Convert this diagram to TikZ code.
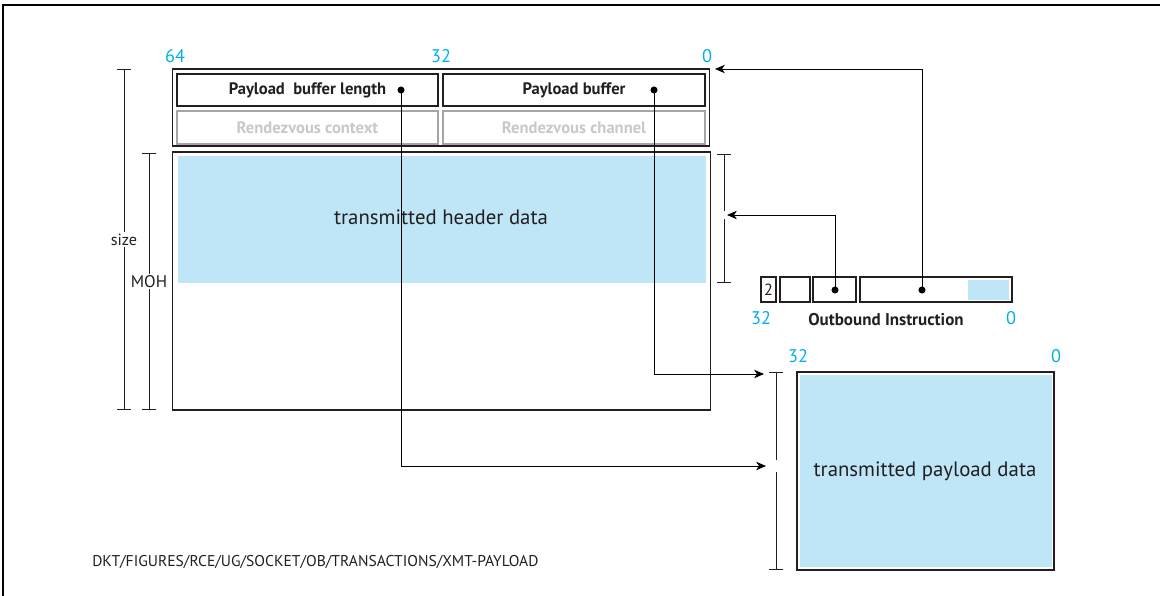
\documentclass[tikz,border=0pt]{standalone}
\usepackage{fontspec}
\setmainfont{PT Sans}
\usetikzlibrary{arrows.meta}

\definecolor{bitblue}{RGB}{0,174,239}
\definecolor{datafill}{RGB}{190,230,247}
\definecolor{inkgray}{RGB}{35,31,32}
\definecolor{dimgray}{RGB}{165,165,165}
\definecolor{faintgray}{RGB}{200,200,200}

\tikzset{
  field/.style={draw=inkgray, line width=0.8pt, inner sep=0pt, text=inkgray,
    font=\bfseries\fontsize{11.8}{14}\selectfont},
  oldfield/.style={field, draw=dimgray, text=faintgray},
  frame/.style={draw=inkgray, line width=0.8pt, inner sep=0pt},
  bitnum/.style={text=bitblue, font=\fontsize{13}{15}\selectfont},
  dimbar/.style={draw=inkgray, line width=0.7pt, {Bar[width=10pt]}-{Bar[width=10pt]}},
  ptr/.style={draw=black, line width=0.7pt, -{Stealth[length=7pt,width=6pt,inset=2pt]}},
  dot/.style={circle, fill=black, inner sep=0pt, minimum size=5pt},
  bigtext/.style={text=inkgray, font=\fontsize{14.8}{17}\selectfont},
  smalltext/.style={text=inkgray, font=\fontsize{11.5}{13}\selectfont},
}

\begin{document}
\begin{tikzpicture}[x=0.025cm, y=-0.025cm]
    \useasboundingbox (0,0) rectangle (1160,596);
    \draw[line width=1pt] (3,596) -- (3,5) -- (1160,5);

    % bit positions
    \node[bitnum] (b64) at (175,56) {64};
    \node[bitnum] (b32) at (441,56) {32};
    \node[bitnum] (b0) at (707,56) {0};

    % message header
    \node[frame, minimum width=13.4cm, minimum height=1.925cm] (hdr) at (441,107.5) {};
    \node[field, minimum width=6.525cm, minimum height=0.8cm] (lenBox) at (307.5,90) {Payload\ \ buffer length};
    \node[field, minimum width=6.55cm, minimum height=0.8cm] (bufBox) at (574,90) {Payload buffer};
    \node[oldfield, minimum width=6.525cm, minimum height=0.825cm] (ctxBox) at (307.5,127.5) {Rendezvous context};
    \node[oldfield, minimum width=6.55cm, minimum height=0.825cm] (chnBox) at (574,127.5) {Rendezvous channel};

    % MOH area
    \node[frame, minimum width=13.425cm, minimum height=6.45cm] (moh) at (441.5,281) {};
    \fill[datafill] (178,156) rectangle (706,283);
    \node[bigtext] (hdrData) at (441,217) {transmitted header data};

    \draw[dimbar] (124,69) -- (124,410) node[midway, fill=white, inner sep=1pt, smalltext] (sizeLbl) {size};
    \draw[dimbar] (149,153) -- (149,410) node[midway, fill=white, inner sep=1pt, smalltext, font=\fontsize{12}{14}\selectfont] (mohLbl) {MOH};
    \draw[dimbar] (724,154) -- (724,283);
    \fill[white] (721,211) rectangle (727,219);

    % outbound instruction
    \node[field, font=\fontsize{11.5}{13}\selectfont, minimum width=0.375cm, minimum height=0.625cm] (ob1) at (768.5,289.5) {2};
    \node[field, minimum width=0.75cm, minimum height=0.625cm] (ob2) at (795,289.5) {};
    \node[field, minimum width=1.075cm, minimum height=0.625cm] (ob3) at (834.5,289.5) {};
    \node[field, minimum width=3.8cm, minimum height=0.625cm] (ob4) at (936,289.5) {};
    \fill[datafill] (968,280) rectangle (1009,300);
    \node[bitnum] (ob32) at (761,318) {32};
    \node[field, draw=none, font=\bfseries\fontsize{12.1}{14}\selectfont] (obLbl) at (886,320) {Outbound Instruction};
    \node[bitnum] (ob0) at (1011,318) {0};

    % payload
    \node[bitnum] (p32) at (798,356) {32};
    \node[bitnum] (p0) at (1056,356) {0};
    \node[frame, minimum width=6.425cm, minimum height=4.95cm] (pay) at (925.5,471) {};
    \fill[datafill] (800,375) rectangle (1052,567);
    \node[bigtext] (payData) at (925,471) {transmitted payload data};
    \draw[dimbar] (776,372) -- (776,570);
    \fill[white] (773,460) rectangle (779,472);

    % pointers
    \node[dot] (lenDot) at (401,90) {};
    \node[dot] (bufDot) at (654,90) {};
    \node[dot] (ctrDot) at (835,290) {};
    \node[dot] (addrDot) at (922,290) {};
    \coordinate (hdrTip) at (715,69);
    \coordinate (mohTip) at (727,215);
    \coordinate (bufTip) at (764,374);
    \coordinate (lenTip) at (766,466);
    \draw[ptr] (addrDot.center) |- (hdrTip);
    \draw[ptr] (ctrDot.center) |- (mohTip);
    \draw[ptr] (bufDot.center) |- (bufTip);
    \draw[ptr] (lenDot.center) |- (lenTip);

    \node[anchor=west, smalltext, font=\fontsize{11.1}{13}\selectfont, inner sep=0pt] (path) at (92,562) {DKT/FIGURES/RCE/UG/SOCKET/OB/TRANSACTIONS/XMT-PAYLOAD};
\end{tikzpicture}
\end{document}
